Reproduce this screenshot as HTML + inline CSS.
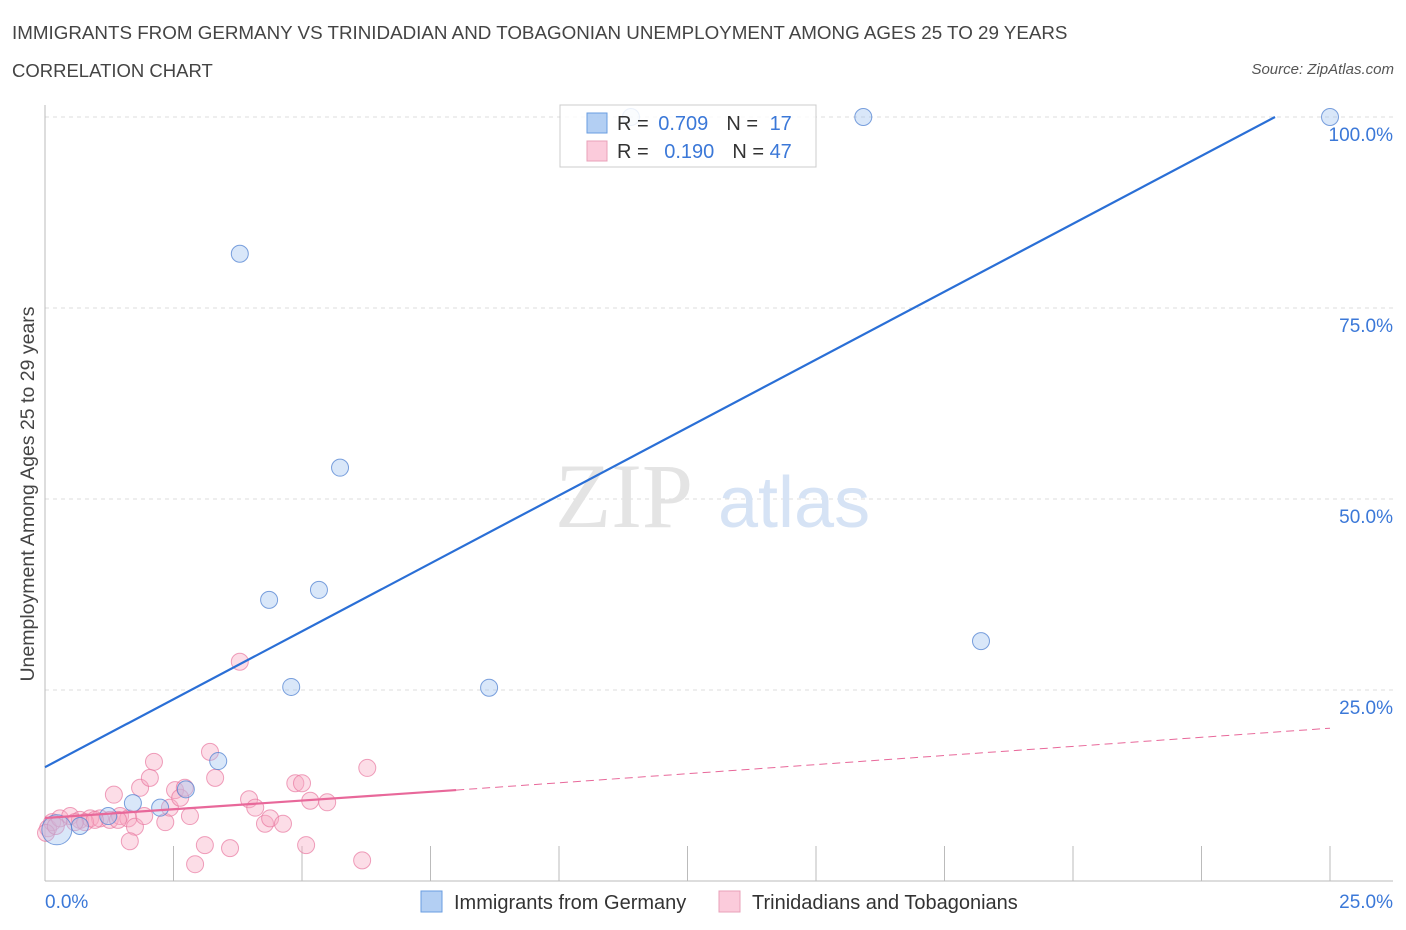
<!DOCTYPE html>
<html><head><meta charset="utf-8">
<style>
body{margin:0;background:#fff;font-family:"Liberation Sans",sans-serif;}
#wrap{position:relative;width:1406px;height:930px;overflow:hidden;}
.t{position:absolute;white-space:nowrap;}
</style></head>
<body>
<div id="wrap">
<div class="t" style="left:12px;top:22px;font-size:18.8px;color:#444;">IMMIGRANTS FROM GERMANY VS TRINIDADIAN AND TOBAGONIAN UNEMPLOYMENT AMONG AGES 25 TO 29 YEARS</div>
<div class="t" style="left:12px;top:60px;font-size:18.5px;color:#444;">CORRELATION CHART</div>
<div class="t" style="right:12px;top:61px;font-size:15px;color:#555;font-style:italic;">Source: ZipAtlas.com</div>
<svg id="svg" width="1406" height="930" style="position:absolute;left:0;top:0"></svg>
</div>
<script>
const blueX=[0.23,0.68,1.23,1.71,2.24,2.74,3.37,3.79,4.36,4.79,5.33,5.74,8.64,11.40,15.92,18.21,25.0];
const blueY=[6.7,7.2,8.5,10.2,9.6,12.0,15.7,82.1,36.8,25.4,38.1,54.1,25.3,100,100,31.4,100];
const pinkX=[0.06,0.14,0.29,0.49,0.68,0.88,1.07,1.26,1.46,1.62,1.75,1.65,1.34,1.85,2.04,2.12,2.34,2.43,2.53,2.63,2.72,2.92,2.82,3.11,3.21,3.31,3.60,3.79,3.97,4.09,4.28,4.38,4.63,4.87,5.00,5.08,5.16,5.49,6.17,6.27,0.02,0.21,0.78,1.93,0.97,1.42,0.58];
const pinkY=[6.9,7.7,8.2,8.5,8.0,8.2,8.2,8.0,8.5,8.2,7.1,5.2,11.3,12.2,13.5,15.6,7.7,9.6,11.9,10.9,12.2,2.2,8.5,4.7,16.9,13.5,4.3,28.7,10.7,9.6,7.5,8.2,7.5,12.8,12.8,4.7,10.5,10.3,2.7,14.8,6.3,7.2,7.7,8.5,8.0,8.0,7.7];
const blueLine=[[0,14.9],[23.93,100]];
const pinkLine=[[0,8.25],[8.0,11.9],[25,20.0]];
const yTicks=[25,50,75,100];
const yTickLabels=["25.0%","50.0%","75.0%","100.0%"];

const X0=45,X1=1330,Y0=881,Y1=117;
const xs=v=>X0+(v/25)*(X1-X0);
const ys=v=>Y0-(v/100)*(Y0-Y1);
const svg=document.getElementById('svg');
const NS='http://www.w3.org/2000/svg';
function mk(tag,attrs){const e=document.createElementNS(NS,tag);for(const k in attrs)e.setAttribute(k,attrs[k]);svg.appendChild(e);return e;}

yTicks.forEach((t,i)=>{
  const g=mk('line',{x1:X0,x2:1393,y1:ys(t),y2:ys(t),stroke:'#ddd','stroke-dasharray':'4,4'});
  
  
  const l=mk('text',{x:1393,y:ys(t)+24,'text-anchor':'end','font-size':19,fill:'#3b78d8','font-family':'Liberation Sans, sans-serif'});
  l.textContent=yTickLabels[i];
  
  
});
let a=mk('line',{x1:X0,x2:X0,y1:105,y2:Y0,stroke:'#bbb'});

a=mk('line',{x1:X0,x2:1393,y1:Y0,y2:Y0,stroke:'#bbb'});

for(let i=1;i<=10;i++){
  const tk=mk('line',{x1:xs(i*2.5),x2:xs(i*2.5),y1:846,y2:Y0,stroke:'#bbb'});
  
  
}
let w=mk('text',{x:555,y:527,'font-size':92,fill:'#e4e4e4','font-family':'Liberation Serif, serif'});
w.textContent='ZIP';
w=mk('text',{x:718,y:527,'font-size':72,fill:'#d6e3f5','font-family':'Liberation Sans, sans-serif'});
w.textContent='atlas';

pinkX.forEach((x,i)=>{
  const c=mk('circle',{cx:xs(x),cy:ys(pinkY[i]),r:8.5,fill:'rgba(248,170,195,0.4)',stroke:'rgba(232,120,160,0.7)','stroke-width':1});
  
  
});
blueX.forEach((x,i)=>{
  const c=mk('circle',{cx:xs(x),cy:ys(blueY[i]),r:i===0?15:8.5,fill:'rgba(160,195,240,0.4)',stroke:'rgba(80,130,210,0.75)','stroke-width':1});
  
  
});
let ln=mk('line',{x1:xs(blueLine[0][0]),y1:ys(blueLine[0][1]),x2:xs(blueLine[1][0]),y2:ys(blueLine[1][1]),stroke:'#2a6fd6','stroke-width':2.2});

ln=mk('line',{x1:xs(pinkLine[0][0]),y1:ys(pinkLine[0][1]),x2:xs(pinkLine[1][0]),y2:ys(pinkLine[1][1]),stroke:'#e8689a','stroke-width':2.2});

ln=mk('line',{x1:xs(pinkLine[1][0]),y1:ys(pinkLine[1][1]),x2:xs(pinkLine[2][0]),y2:ys(pinkLine[2][1]),stroke:'#e8689a','stroke-width':1,'stroke-dasharray':'8,5'});


let xl=mk('text',{x:45,y:908,'font-size':19,fill:'#3b78d8','font-family':'Liberation Sans, sans-serif'});
xl.textContent='0.0%';
xl=mk('text',{x:1393,y:908,'text-anchor':'end','font-size':19,fill:'#3b78d8','font-family':'Liberation Sans, sans-serif'});
xl.textContent='25.0%';
const yt=mk('text',{x:0,y:0,'font-size':19.5,fill:'#444','text-anchor':'middle','font-family':'Liberation Sans, sans-serif',transform:'translate(34,494) rotate(-90)'});
yt.textContent='Unemployment Among Ages 25 to 29 years';

let r=mk('rect',{x:560,y:105,width:256,height:62,fill:'rgba(255,255,255,0.85)',stroke:'#ccc'});

const rows=[["0.709","17",'rgba(160,195,240,0.8)','#6a9ee0'],["0.190","47",'rgba(250,190,210,0.8)','#e8a0b8']];
rows.forEach((rw,i)=>{
  const y=123+i*28;
  const s=mk('rect',{x:587,y:y-10,width:20,height:20,fill:rw[2],stroke:rw[3]});
  
  const t=mk('text',{x:617,y:y+7,'font-size':20,fill:'#333','font-family':'Liberation Sans, sans-serif'});
  t.innerHTML='R = <tspan fill="#3b78d8" dx="'+(i?10:4)+'">'+rw[0]+'</tspan><tspan dx="18">N = </tspan><tspan fill="#3b78d8" dx="'+(i?0:6)+'">'+rw[1]+'</tspan>';
  
});
[["Immigrants from Germany",421,'rgba(160,195,240,0.8)','#6a9ee0'],["Trinidadians and Tobagonians",719,'rgba(250,190,210,0.8)','#e8a0b8']].forEach(l=>{
  const s=mk('rect',{x:l[1],y:891,width:21,height:21,fill:l[2],stroke:l[3]});
  
  const t=mk('text',{x:l[1]+33,y:909,'font-size':20,fill:'#333','font-family':'Liberation Sans, sans-serif'});
  t.textContent=l[0];
  
});
</script>
</body></html>
